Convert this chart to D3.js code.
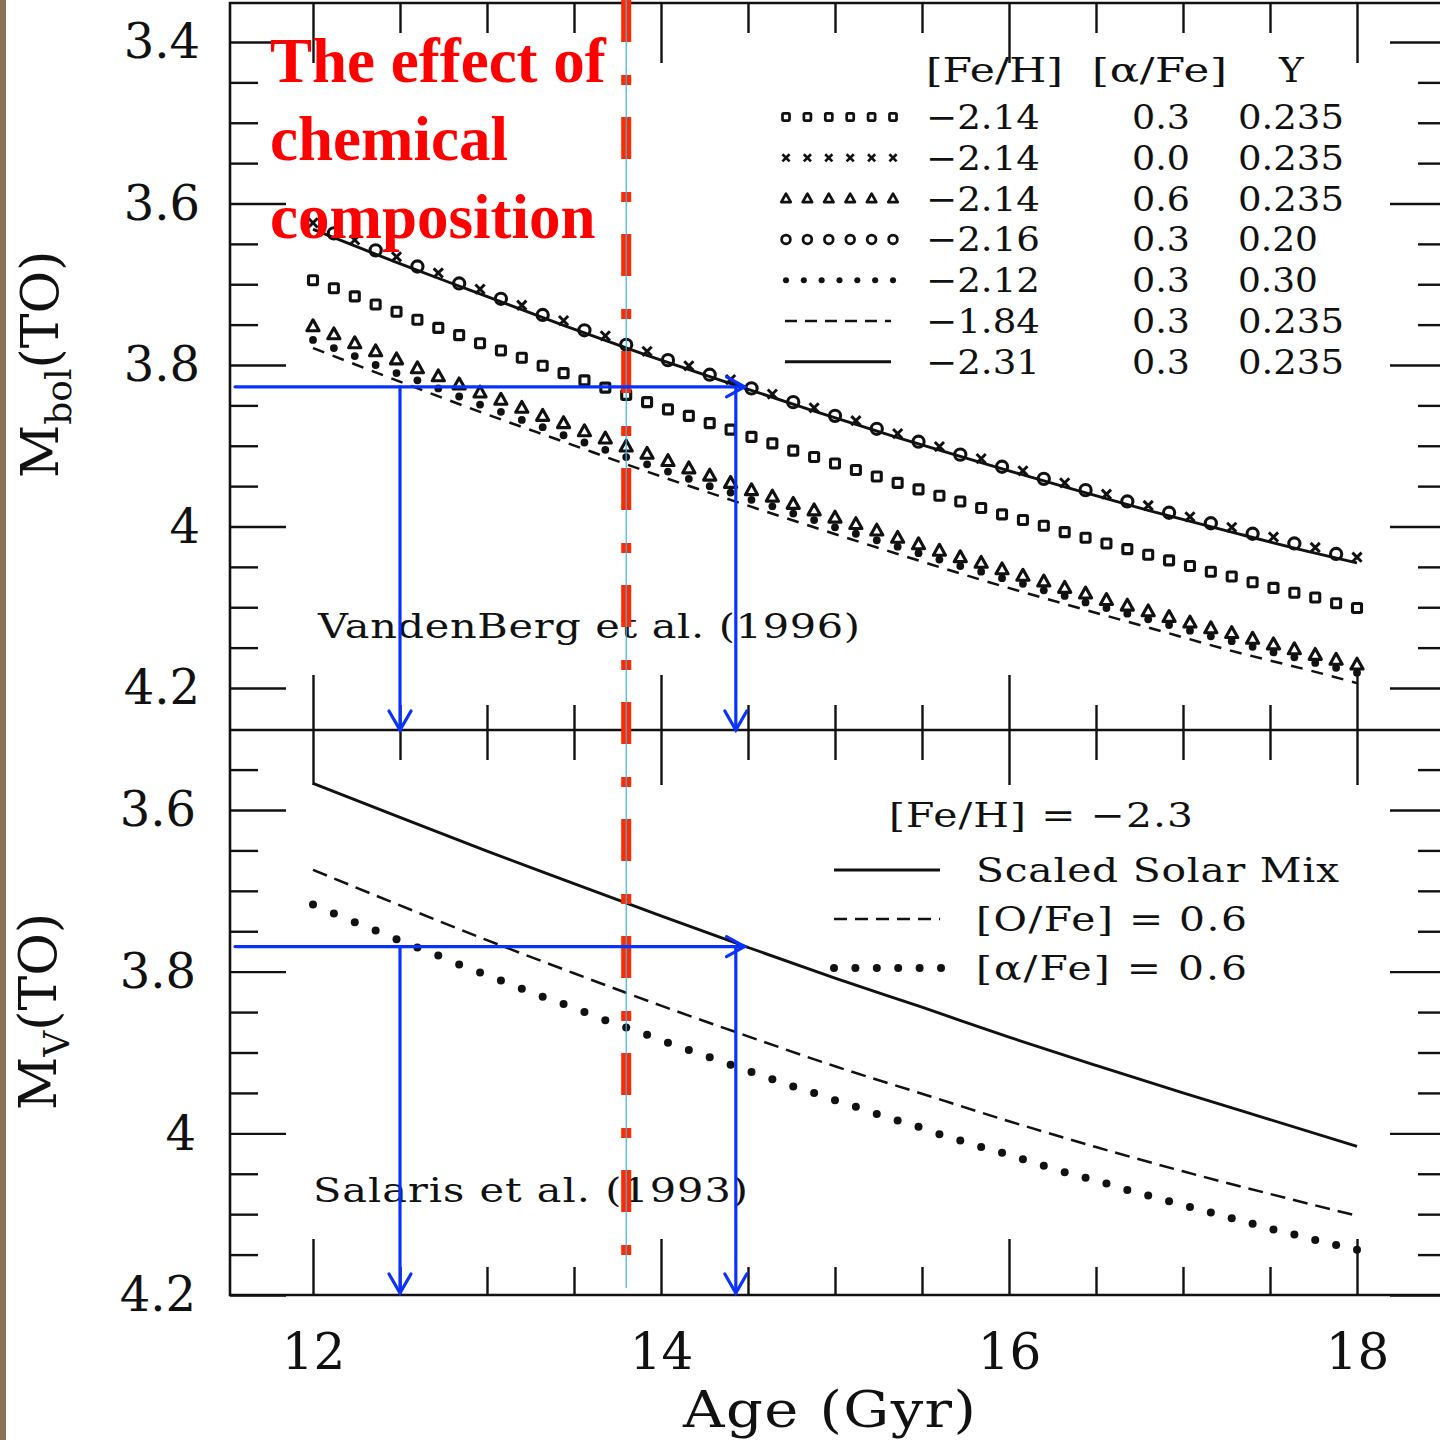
<!DOCTYPE html>
<html>
<head>
<meta charset="utf-8">
<script src="https://cdn.jsdelivr.net/npm/d3@7"></script>
<style>
  body { margin: 0; background: #fff; }
  svg { display: block; }
</style>
</head>
<body>
<svg id="chart" width="1440" height="1440"></svg>
<script>
// ---------- data ----------
// model grid (Gyr) shared by the marker sequences
const ages = [12.00, 12.12, 12.24, 12.36, 12.48, 12.60, 12.72, 12.84, 12.96, 13.08,
  13.20, 13.32, 13.44, 13.56, 13.68, 13.80, 13.92, 14.04, 14.16, 14.28,
  14.40, 14.52, 14.64, 14.76, 14.88, 15.00, 15.12, 15.24, 15.36, 15.48,
  15.60, 15.72, 15.84, 15.96, 16.08, 16.20, 16.32, 16.44, 16.56, 16.68,
  16.80, 16.92, 17.04, 17.16, 17.28, 17.40, 17.52, 17.64, 17.76, 17.88, 18.00];

// VandenBerg et al. (1996): Mbol(TO)
// [Fe/H]=-2.14 [a/Fe]=0.3 Y=0.235 (squares)
const mbolAlpha03 = [3.695, 3.705, 3.715, 3.725, 3.734, 3.744, 3.754, 3.763, 3.773, 3.782,
  3.791, 3.801, 3.810, 3.819, 3.828, 3.837, 3.846, 3.855, 3.863, 3.872,
  3.880, 3.889, 3.897, 3.906, 3.914, 3.922, 3.930, 3.938, 3.946, 3.954,
  3.962, 3.969, 3.977, 3.985, 3.992, 3.999, 4.007, 4.014, 4.021, 4.028,
  4.035, 4.042, 4.049, 4.056, 4.062, 4.069, 4.076, 4.082, 4.088, 4.095, 4.101];
// [Fe/H]=-2.14 [a/Fe]=0.0 Y=0.235 (crosses)
const mbolAlpha00 = [3.624, null, 3.645, null, 3.666, null, 3.686, null, 3.706, null,
  3.726, null, 3.745, null, 3.764, null, 3.783, null, 3.801, null,
  3.818, null, 3.836, null, 3.853, null, 3.869, null, 3.885, null,
  3.901, null, 3.916, null, 3.931, null, 3.946, null, 3.960, null,
  3.974, null, 3.988, null, 4.001, null, 4.013, null, 4.026, null, 4.038];
// [Fe/H]=-2.14 [a/Fe]=0.6 Y=0.235 (triangles)
const mbolAlpha06 = [3.752, 3.762, 3.773, 3.783, 3.793, 3.804, 3.814, 3.824, 3.834, 3.843,
  3.853, 3.863, 3.872, 3.882, 3.891, 3.901, 3.910, 3.919, 3.928, 3.937,
  3.946, 3.955, 3.963, 3.972, 3.980, 3.989, 3.997, 4.005, 4.014, 4.022,
  4.030, 4.038, 4.045, 4.053, 4.061, 4.068, 4.076, 4.083, 4.091, 4.098,
  4.105, 4.112, 4.119, 4.126, 4.132, 4.139, 4.146, 4.152, 4.159, 4.165, 4.171];
// [Fe/H]=-2.16 [a/Fe]=0.3 Y=0.20 (open circles)
const mbolY020 = [null, 3.637, null, 3.658, null, 3.678, null, 3.699, null, 3.718,
  null, 3.738, null, 3.757, null, 3.775, null, 3.794, null, 3.812,
  null, 3.829, null, 3.846, null, 3.863, null, 3.879, null, 3.895,
  null, 3.911, null, 3.926, null, 3.941, null, 3.955, null, 3.969,
  null, 3.983, null, 3.996, null, 4.009, null, 4.021, null, 4.034, null];
// [Fe/H]=-2.12 [a/Fe]=0.3 Y=0.30 (filled dots)
const mbolY030 = [3.769, 3.779, 3.789, 3.800, 3.810, 3.819, 3.829, 3.839, 3.849, 3.858,
  3.868, 3.877, 3.887, 3.896, 3.905, 3.914, 3.923, 3.932, 3.941, 3.950,
  3.958, 3.967, 3.975, 3.984, 3.992, 4.001, 4.009, 4.017, 4.025, 4.033,
  4.041, 4.049, 4.056, 4.064, 4.071, 4.079, 4.086, 4.094, 4.101, 4.108,
  4.115, 4.122, 4.129, 4.136, 4.142, 4.149, 4.156, 4.162, 4.169, 4.175, 4.181];
// line sequences
const lineAges = [12.00, 12.48, 12.96, 13.44, 13.92, 14.40, 14.88, 15.36, 15.84, 16.32, 16.80, 17.28, 17.76, 18.00];
const mbolFe184 = [3.779, 3.819, 3.858, 3.895, 3.932, 3.967, 4.001, 4.034, 4.066, 4.096, 4.125, 4.154, 4.180, 4.194];
const mbolFe231 = [3.632, 3.673, 3.712, 3.751, 3.788, 3.823, 3.857, 3.890, 3.921, 3.951, 3.980, 4.007, 4.033, 4.045];

// Salaris et al. (1993): Mv(TO), [Fe/H] = -2.3
const salarisAges = [12.0, 12.5, 13.0, 13.5, 14.0, 14.5, 15.0, 15.5, 16.0, 16.5, 17.0, 17.5, 18.0];
const mvSolar = [3.567, 3.609, 3.651, 3.691, 3.731, 3.770, 3.808, 3.844, 3.881, 3.916, 3.950, 3.983, 4.016];
const mvOxygen = [3.674, 3.718, 3.761, 3.802, 3.842, 3.880, 3.917, 3.951, 3.985, 4.017, 4.047, 4.075, 4.102];
const mvAlpha = [3.717, 3.728, 3.739, 3.749, 3.760, 3.770, 3.780, 3.791, 3.801, 3.811,
  3.821, 3.831, 3.840, 3.850, 3.860, 3.869, 3.878, 3.888, 3.897, 3.906,
  3.915, 3.924, 3.933, 3.942, 3.950, 3.959, 3.967, 3.976, 3.984, 3.992,
  4.001, 4.009, 4.017, 4.024, 4.032, 4.040, 4.048, 4.055, 4.062, 4.070,
  4.077, 4.084, 4.091, 4.098, 4.105, 4.112, 4.119, 4.125, 4.132, 4.138, 4.144];

// legend table (top panel)
const legendHeader = ["[Fe/H]", "[\u03b1/Fe]", "Y"];
const legendFeH = ["\u22122.14", "\u22122.14", "\u22122.14", "\u22122.16", "\u22122.12", "\u22121.84", "\u22122.31"];
const legendAlpha = ["0.3", "0.0", "0.6", "0.3", "0.3", "0.3", "0.3"];
const legendY = ["0.235", "0.235", "0.235", "0.20", "0.30", "0.235", "0.235"];
const legendKinds = ["square", "cross", "triangle", "circle", "dot", "dash", "solid"];

// legend (bottom panel)
const salarisTitle = "[Fe/H] = \u22122.3";
const salarisLegend = ["Scaled Solar Mix", "[O/Fe] = 0.6", "[\u03b1/Fe] = 0.6"];
const salarisKinds = ["solid", "dash", "dot"];

// tick labels
const xTickLabels = ["12", "14", "16", "18"];
const mbolTickLabels = ["3.4", "3.6", "3.8", "4", "4.2"];
const mvTickLabels = ["3.6", "3.8", "4", "4.2"];

// annotation: age of the Universe and read-off arrows
const universeAge = 13.8;
const arrowAges = [12.5, 14.43];
const mbolLevel = 3.827;
const mvLevel = 3.769;
const arrowTipAge = 14.48;

// ---------- layout ----------
const svg = d3.select("#chart");
const INK = "#111";
const serif = "'DejaVu Serif', 'Liberation Serif', serif";

const x = d3.scaleLinear().domain([12, 18]).range([313, 1357]);
const yTop = d3.scaleLinear().domain([3.4, 4.2]).range([42, 688]);
const yBot = d3.scaleLinear().domain([3.6, 4.2]).range([810, 1295]);

const frameL = 230, frameR = 1442, frameT = 3, frameM = 730, frameB = 1295;

svg.append("rect").attr("width", 1440).attr("height", 1440).attr("fill", "#fff");
svg.append("rect").attr("x", 0).attr("y", 0).attr("width", 6).attr("height", 1440).attr("fill", "#8b7257");

const fig = svg.append("g");

// typewriter-like text: widen glyphs horizontally, then let spacing fill the rest
function wideText(parent, str, x0, y0, width, size, stretch = 1.2) {
  const t = parent.append("text").attr("x", x0).attr("y", y0)
    .attr("font-family", serif).attr("font-size", size).attr("fill", INK).text(str);
  const natural = t.node().getComputedTextLength();
  const s = Math.min(stretch, width / natural);
  if (width / s > natural + 0.5) t.attr("textLength", width / s).attr("lengthAdjust", "spacing");
  t.attr("transform", `translate(${x0},0) scale(${s},1) translate(${-x0},0)`);
  return t;
}

// frame
fig.append("path")
  .attr("d", `M${frameR},${frameT}H${frameL}V${frameB}H${frameR} M${frameL},${frameM}H${frameR}`)
  .attr("fill", "none").attr("stroke", INK).attr("stroke-width", 2.6);

function styleAxis(g) {
  g.select(".domain").remove();
  g.selectAll(".tick line").attr("stroke", INK).attr("stroke-width", 2.4);
  g.selectAll("text").attr("font-family", serif).attr("fill", INK);
}

const ageMinor = d3.range(12.5, 18, 0.5).filter(v => Math.abs(v % 2) > 0.01);
const ageMajor = [12, 14, 16, 18];
const mbolMinor = d3.range(3.45, 4.2, 0.05).filter(v => Math.abs(Math.round(v * 100) % 20) > 1);
const mbolMajor = [3.4, 3.6, 3.8, 4.0, 4.2];
const mvMinor = d3.range(3.55, 4.2, 0.05).filter(v => Math.abs(Math.round(v * 100) % 20) > 1);
const mvMajor = [3.6, 3.8, 4.0, 4.2];

// age ticks on the horizontal frame lines
[[frameT, d3.axisTop, -30, -60], [frameM, d3.axisBottom, -25, -55], [frameM, d3.axisTop, -30, -55]].forEach(([yy, ax, mn, mj]) => {
  fig.append("g").attr("transform", `translate(0,${yy})`)
    .call(ax(x).tickValues(ageMinor).tickSize(mn).tickFormat("")).call(styleAxis);
  fig.append("g").attr("transform", `translate(0,${yy})`)
    .call(ax(x).tickValues(ageMajor).tickSize(mj).tickFormat("")).call(styleAxis);
});
fig.append("g").attr("transform", `translate(0,${frameB})`)
  .call(d3.axisBottom(x).tickValues(ageMinor).tickSize(-28).tickFormat("")).call(styleAxis);
fig.append("g").attr("transform", `translate(0,${frameB})`)
  .call(d3.axisBottom(x).tickValues(ageMajor).tickSize(-56).tickPadding(38)
    .tickFormat((d, i) => xTickLabels[i])).call(styleAxis)
  .selectAll("text").attr("font-size", 50);

// magnitude ticks, left and right
function magTicks(scale, minor, major, labels, labelX) {
  fig.append("g").attr("transform", `translate(${frameL},0)`)
    .call(d3.axisLeft(scale).tickValues(minor).tickSize(-28).tickFormat("")).call(styleAxis);
  fig.append("g").attr("transform", `translate(${frameL},0)`)
    .call(d3.axisLeft(scale).tickValues(major).tickSize(-56).tickPadding(frameL - labelX)
      .tickFormat((d, i) => labels[i])).call(styleAxis)
    .selectAll("text").attr("font-size", 48).attr("dy", "0.33em");
  fig.append("g").attr("transform", `translate(${frameR},0)`)
    .call(d3.axisRight(scale).tickValues(minor).tickSize(-24).tickFormat("")).call(styleAxis);
  fig.append("g").attr("transform", `translate(${frameR},0)`)
    .call(d3.axisRight(scale).tickValues(major).tickSize(-52).tickFormat("")).call(styleAxis);
}
magTicks(yTop, mbolMinor, mbolMajor, mbolTickLabels, 200);
magTicks(yBot, mvMinor, mvMajor, mvTickLabels, 196);

// ---------- marker helpers ----------
function drawMarker(g, kind, cx, cy, k = 1) {
  const sw = 3.1 * Math.sqrt(k);
  if (kind === "square") {
    const h = 4.5 * k;
    g.append("rect").attr("x", cx - h).attr("y", cy - h).attr("width", 2 * h).attr("height", 2 * h)
      .attr("rx", 1.2).attr("fill", "none").attr("stroke", INK).attr("stroke-width", sw);
  } else if (kind === "cross") {
    const h = 4.6 * k;
    g.append("path").attr("d", `M${cx - h},${cy - h}L${cx + h},${cy + h}M${cx - h},${cy + h}L${cx + h},${cy - h}`)
      .attr("stroke", INK).attr("stroke-width", sw * 0.95);
  } else if (kind === "triangle") {
    const h = 6.4 * k;
    g.append("path").attr("d", `M${cx},${cy - h}L${cx + h * 0.95},${cy + h * 0.7}L${cx - h * 0.95},${cy + h * 0.7}Z`)
      .attr("fill", "none").attr("stroke", INK).attr("stroke-width", sw).attr("stroke-linejoin", "round");
  } else if (kind === "circle") {
    g.append("circle").attr("cx", cx).attr("cy", cy).attr("r", 5.6 * k)
      .attr("fill", "none").attr("stroke", INK).attr("stroke-width", sw);
  } else if (kind === "dot") {
    g.append("circle").attr("cx", cx).attr("cy", cy).attr("r", 3.9 * k).attr("fill", INK);
  }
}

function markerSeries(values, kind, yScale, ageList) {
  const g = fig.append("g");
  values.forEach((v, i) => {
    if (v === null) return;
    drawMarker(g, kind, x(ageList[i]), yScale(v));
  });
}

function lineSeries(ageList, values, yScale, dash, width) {
  fig.append("path")
    .datum(values.map((v, i) => [ageList[i], v]))
    .attr("d", d3.line().x(d => x(d[0])).y(d => yScale(d[1])).curve(d3.curveMonotoneX))
    .attr("fill", "none").attr("stroke", INK).attr("stroke-width", width)
    .attr("stroke-dasharray", dash);
}

// ---------- top panel ----------
lineSeries(lineAges, mbolFe184, yTop, "12,9", 2.5);
lineSeries(lineAges, mbolFe231, yTop, null, 2.9);
markerSeries(mbolY030, "dot", yTop, ages);
markerSeries(mbolAlpha06, "triangle", yTop, ages);
markerSeries(mbolAlpha03, "square", yTop, ages);
markerSeries(mbolAlpha00, "cross", yTop, ages);
markerSeries(mbolY020, "circle", yTop, ages);

// top legend table
const tl = fig.append("g");
wideText(tl, legendHeader[0], 926, 82, 137, 34, 1.28);
wideText(tl, legendHeader[1], 1092, 82, 135, 34, 1.28);
wideText(tl, legendHeader[2], 1279, 82, 26, 34, 1.1);
const rowY = d3.range(7).map(i => 117 + i * 40.8);
legendKinds.forEach((k, i) => {
  const cy = rowY[i];
  if (k === "dash" || k === "solid") {
    fig.append("line").attr("x1", 785).attr("x2", 891).attr("y1", cy).attr("y2", cy)
      .attr("stroke", INK).attr("stroke-width", k === "solid" ? 3 : 2.4)
      .attr("stroke-dasharray", k === "dash" ? "12,8" : null);
  } else {
    const n = k === "dot" ? 7 : 6;
    const g = fig.append("g");
    d3.range(n).forEach(j => drawMarker(g, k, 786 + j * (107 / (n - 1)), cy, 0.78));
  }
  wideText(tl, legendFeH[i], 926, cy + 12, 114, 34, 1.12);
  wideText(tl, legendAlpha[i], 1132, cy + 12, 58, 34, 1.12);
  wideText(tl, legendY[i], 1238, cy + 12, legendY[i].length === 5 ? 106 : 80, 34, 1.12);
});

wideText(fig, "VandenBerg et al. (1996)", 318, 638, 542, 34, 1.22);

// ---------- bottom panel ----------
lineSeries(salarisAges, mvSolar, yBot, null, 2.9);
lineSeries(salarisAges, mvOxygen, yBot, "15,8", 2.5);
const dotG = fig.append("g");
mvAlpha.forEach((v, i) => dotG.append("circle").attr("cx", x(ages[i])).attr("cy", yBot(v)).attr("r", 4).attr("fill", INK));

const bl = fig.append("g");
wideText(bl, salarisTitle, 889, 827, 304, 34, 1.2);
const blRows = [870, 919, 968];
const blWidths = [363, 271, 271];
salarisKinds.forEach((k, i) => {
  const cy = blRows[i];
  if (k === "dot") {
    d3.range(6).forEach(j => fig.append("circle").attr("cx", 834 + j * 21.4).attr("cy", cy).attr("r", 4).attr("fill", INK));
  } else {
    fig.append("line").attr("x1", 834).attr("x2", 940).attr("y1", cy).attr("y2", cy)
      .attr("stroke", INK).attr("stroke-width", k === "solid" ? 3 : 2.4)
      .attr("stroke-dasharray", k === "dash" ? "13,8" : null);
  }
  wideText(bl, salarisLegend[i], 976, cy + 12, blWidths[i], 34, 1.2);
});

wideText(fig, "Salaris et al. (1993)", 313, 1202, 435, 34, 1.22);

// ---------- axis titles ----------
wideText(fig, "Age (Gyr)", 683, 1427, 293, 50, 1.15);

function yTitle(sub, baseX, startY) {
  const t = fig.append("text").attr("transform", `translate(${baseX},${startY}) rotate(-90)`)
    .attr("font-family", serif).attr("fill", INK).attr("font-size", 52);
  t.append("tspan").text("M");
  t.append("tspan").attr("font-size", 36).attr("dy", 13).text(sub);
  t.append("tspan").attr("dy", -13).text("(TO)");
}
yTitle("bol", 58, 478);
yTitle("V", 56, 1110);

// ---------- overlay annotation ----------
const ann = svg.append("g");
const ux = x(universeAge);
ann.append("line").attr("x1", ux).attr("x2", ux).attr("y1", 0).attr("y2", 1258)
  .attr("stroke", "#ff2a00").attr("stroke-width", 10).attr("stroke-dasharray", "42,33,10,32");
ann.append("line").attr("x1", ux).attr("x2", ux).attr("y1", 0).attr("y2", 1288)
  .attr("stroke", "#3bb3e6").attr("stroke-width", 1.2);

const BLUE = "#0a32ff";
function readOff(yScale, level, yEnd) {
  const yy = yScale(level);
  const g = ann.append("g").attr("stroke", BLUE).attr("stroke-width", 3.2).attr("fill", "none")
    .attr("stroke-linecap", "round");
  const xt = x(arrowTipAge);
  g.append("path").attr("d", `M${frameL + 5},${yy}H${xt}`);
  g.append("path").attr("d", `M${xt - 18},${yy - 10}L${xt},${yy}L${xt - 18},${yy + 10}`);
  arrowAges.forEach(a => {
    const xa = x(a);
    g.append("path").attr("d", `M${xa},${yy}V${yEnd}`);
    g.append("path").attr("d", `M${xa - 11},${yEnd - 19}L${xa},${yEnd}L${xa + 11},${yEnd - 19}`);
  });
}
readOff(yTop, mbolLevel, frameM);
readOff(yBot, mvLevel, frameB - 2);

const red = ann.append("text").attr("font-family", "'Liberation Serif', 'Times New Roman', serif")
  .attr("font-weight", "bold").attr("font-size", 63).attr("fill", "#ff0000");
["The effect of", "chemical", "composition"].forEach((s, i) =>
  red.append("tspan").attr("x", 270).attr("y", 82 + i * 78).text(s));
</script>
</body>
</html>
